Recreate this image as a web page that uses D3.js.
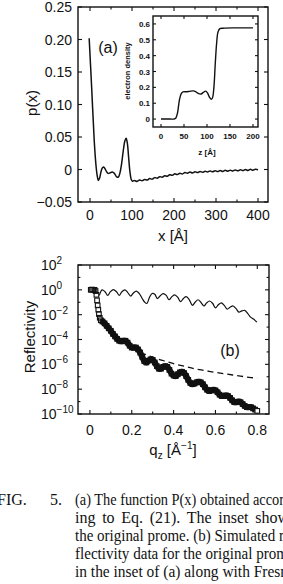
<!DOCTYPE html>
<html>
<head>
<meta charset="utf-8">
<script src="https://cdn.jsdelivr.net/npm/d3@7"></script>
<style>
  html, body { margin: 0; padding: 0; background: #fff; }
  svg { display: block; }
  .tick-label { font-family: "Liberation Sans", Arial, sans-serif; font-size: 14px; fill: #111; }
  .inset-label { font-family: "Liberation Sans", Arial, sans-serif; font-size: 8px; font-weight: bold; fill: #111; }
  .caption { font-family: "Liberation Serif", "Times New Roman", serif; font-size: 16px; fill: #111; }
</style>
</head>
<body>
<div id="chart"></div>
<script>
// panel (a): P(x)
const pX = [-2, 4, 10, 14, 17, 20, 23, 26, 29, 32, 35, 39, 43, 48, 53, 58, 63, 67, 71, 75, 79, 83, 86, 89, 92, 95, 98, 101,
  106, 112, 118, 124, 130, 136, 142, 148, 154, 160, 166, 172, 178, 184, 190, 196, 202, 208, 214, 220, 226, 232, 238, 244,
  250, 256, 262, 268, 274, 280, 286, 292, 298, 304, 310, 316, 322, 328, 334, 340, 346, 352, 358, 364, 370, 376, 382, 388, 394, 400];
const pY = [0.202, 0.125, 0.045, 0.008, -0.009, -0.017, -0.013, -0.004, 0.002, 0.004, 0.002, -0.003, -0.006, -0.005, -0.004, -0.006, -0.011, -0.012, -0.006, 0.008, 0.028, 0.044, 0.048, 0.040, 0.018, -0.003, -0.015, -0.018,
  -0.0170, -0.0183, -0.0162, -0.0173, -0.0152, -0.0163, -0.0140, -0.0148, -0.0125, -0.0133, -0.0110, -0.0118, -0.0095, -0.0103, -0.0080, -0.0088, -0.0067, -0.0078, -0.0057, -0.0068, -0.0047, -0.0058, -0.0040, -0.0053,
  -0.0035, -0.0048, -0.0031, -0.0043, -0.0027, -0.0038, -0.0022, -0.0035, -0.0019, -0.0032, -0.0016, -0.0029, -0.0013, -0.0026, -0.0010, -0.0023, -0.0007, -0.0020, -0.0004, -0.0017, -0.0001, -0.0014, 0.0002, -0.0011, 0.0005, -0.0003];

// inset: electron density profile
const zVals = [0, 10, 20, 28, 32, 36, 40, 44, 48, 55, 62, 70, 76, 82, 87, 92, 97, 101, 105, 109, 112, 115, 118, 121, 124, 128, 135, 160, 200];
const rhoVals = [0, 0, 0, 0, 0.005, 0.04, 0.12, 0.16, 0.172, 0.172, 0.175, 0.178, 0.172, 0.16, 0.158, 0.168, 0.176, 0.165, 0.14, 0.125, 0.135, 0.2, 0.35, 0.48, 0.55, 0.57, 0.573, 0.575, 0.575];

// panel (b): reflectivity, log10 values
const qOrig = [0.045, 0.058, 0.072, 0.085, 0.098, 0.112, 0.127, 0.14, 0.153, 0.167, 0.18, 0.195, 0.208, 0.222, 0.236, 0.25, 0.262, 0.272,
  0.285, 0.297, 0.31, 0.322, 0.335, 0.35, 0.365, 0.378, 0.392, 0.405, 0.42, 0.433, 0.447, 0.46, 0.475, 0.49, 0.503, 0.517, 0.53,
  0.545, 0.558, 0.572, 0.587, 0.6, 0.614, 0.628, 0.642, 0.656, 0.67, 0.684, 0.698, 0.712, 0.726, 0.74, 0.754, 0.768, 0.782, 0.798];
const logROrig = [-0.45, 0.0, -0.15, -0.45, -0.15, 0.02, -0.15, -0.45, -0.15, 0.0, -0.2, -0.5, -0.25, -0.1, -0.3, -0.7, -1.0, -1.1,
  -0.6, -0.3, -0.35, -0.7, -0.5, -0.3, -0.45, -0.8, -0.55, -0.4, -0.6, -0.95, -0.7, -0.55, -0.8, -1.25, -1.0, -0.8, -1.0,
  -1.3, -1.05, -0.9, -1.1, -1.45, -1.2, -1.05, -1.25, -1.55, -1.4, -1.3, -1.5, -1.8, -1.7, -1.65, -1.9, -2.2, -2.35, -2.6];

const qSim = [0.004, 0.010, 0.016, 0.022, 0.027, 0.031, 0.034, 0.037, 0.040, 0.043, 0.047, 0.052, 0.060, 0.070, 0.080, 0.090,
  0.100, 0.110, 0.120, 0.130, 0.140, 0.150, 0.160, 0.170, 0.180, 0.190, 0.200, 0.210, 0.220, 0.230, 0.240, 0.250, 0.260, 0.270,
  0.280, 0.290, 0.300, 0.310, 0.320, 0.330, 0.340, 0.350, 0.360, 0.370, 0.380, 0.390, 0.400, 0.410, 0.420, 0.430, 0.440, 0.450,
  0.460, 0.470, 0.480, 0.490, 0.500, 0.510, 0.520, 0.530, 0.540, 0.550, 0.560, 0.570, 0.580, 0.590, 0.600, 0.610, 0.620, 0.630,
  0.640, 0.650, 0.660, 0.670, 0.680, 0.690, 0.700, 0.710, 0.720, 0.730, 0.740, 0.750, 0.760, 0.770, 0.780, 0.790, 0.800];
const logRSim = [0.0, 0.02, 0.0, 0.0, -0.1, -0.4, -0.85, -1.25, -1.6, -1.95, -2.25, -2.45, -2.55, -2.7, -2.9, -3.1,
  -3.3, -3.55, -3.75, -3.95, -4.1, -4.15, -4.1, -4.1, -4.25, -4.5, -4.65, -4.65, -4.65, -4.8, -5.05, -5.4, -5.75, -5.85,
  -5.7, -5.6, -5.65, -5.85, -6.15, -6.35, -6.35, -6.2, -6.15, -6.2, -6.45, -6.75, -6.9, -6.95, -6.8, -6.65, -6.6, -6.7,
  -6.95, -7.25, -7.5, -7.6, -7.55, -7.45, -7.4, -7.45, -7.6, -7.85, -8.05, -8.15, -8.1, -8.05, -8.1, -8.25, -8.45, -8.55,
  -8.55, -8.5, -8.55, -8.7, -8.9, -9.05, -9.05, -9.0, -9.05, -9.2, -9.35, -9.45, -9.45, -9.45, -9.55, -9.65, -9.75];

const qFresnel = [0.24, 0.28, 0.32, 0.36, 0.40, 0.45, 0.50, 0.55, 0.60, 0.65, 0.70, 0.75, 0.80];
const logRFresnel = [-5.05, -5.3, -5.55, -5.75, -5.95, -6.15, -6.35, -6.5, -6.65, -6.78, -6.9, -7.02, -7.12];

// tick labels
const xTicksA = [0, 100, 200, 300, 400];
const yTicksA = [-0.05, 0, 0.05, 0.10, 0.15, 0.20, 0.25];
const xTicksInset = [0, 50, 100, 150, 200];
const yTicksInset = [0, 0.1, 0.2, 0.3, 0.4, 0.5, 0.6];
const xTicksB = [0, 0.2, 0.4, 0.6, 0.8];
const yExpB = [2, 0, -2, -4, -6, -8, -10];

const captionLines = [
  { text: '(a) The function P(x) obtained accor', right: 284 },
  { text: 'ing to Eq. (21). The inset show', right: 289 },
  { text: 'the original prome. (b) Simulated r', right: 284 },
  { text: 'flectivity data for the original prom', right: 288 },
  { text: 'in the inset of (a) along with Fresn', right: 288 }
];

const W = 283, H = 584;
const ink = '#111';

const svg = d3.select('#chart').append('svg')
  .attr('width', W).attr('height', H)
  .attr('viewBox', `0 0 ${W} ${H}`);

svg.append('rect').attr('width', W).attr('height', H).attr('fill', '#fff');

const fmtA = d => d === 0 ? '0' : (d < 0 ? '\u2212' : '') + Math.abs(d).toFixed(2);

// draws inward ticks on all four sides of a frame
function frameTicks(g, x, y, xMajor, xMinor, yMajor, yMinor, len) {
  const [x0, x1] = x.range(), [y0, y1] = y.range();
  const tk = (vals, l, horiz) => vals.forEach(v => {
    if (horiz) {
      const px = x(v);
      g.append('line').attr('x1', px).attr('x2', px).attr('y1', y0).attr('y2', y0 - l);
      g.append('line').attr('x1', px).attr('x2', px).attr('y1', y1).attr('y2', y1 + l);
    } else {
      const py = y(v);
      g.append('line').attr('x1', x0).attr('x2', x0 + l).attr('y1', py).attr('y2', py);
      g.append('line').attr('x1', x1).attr('x2', x1 - l).attr('y1', py).attr('y2', py);
    }
  });
  tk(xMajor, len, true); tk(xMinor, len * 0.6, true);
  tk(yMajor, len, false); tk(yMinor, len * 0.6, false);
  g.selectAll('line').attr('stroke', ink).attr('stroke-width', 1.1);
  g.append('rect')
    .attr('x', x0).attr('y', y1).attr('width', x1 - x0).attr('height', y0 - y1)
    .attr('fill', 'none').attr('stroke', ink).attr('stroke-width', 1.4);
}

// ---------- panel (a) ----------
const xA = d3.scaleLinear().domain([-28.6, 423.8]).range([78, 268]);
const yA = d3.scaleLinear().domain([-0.05, 0.25]).range([202, 7]);

const gA = svg.append('g');
frameTicks(gA.append('g'), xA, yA, xTicksA, [50, 150, 250, 350], yTicksA, [], 4);

gA.append('path')
  .datum(pX.map((x, i) => [x, pY[i]]))
  .attr('fill', 'none').attr('stroke', ink).attr('stroke-width', 1.5)
  .attr('stroke-linejoin', 'round')
  .attr('d', d3.line().x(d => xA(d[0])).y(d => yA(d[1])).curve(d3.curveCatmullRom));

gA.selectAll('.ylab').data(yTicksA).enter().append('text')
  .attr('class', 'tick-label').attr('text-anchor', 'end')
  .attr('x', 72).attr('y', d => yA(d) + 5).text(fmtA);

gA.selectAll('.xlab').data(xTicksA).enter().append('text')
  .attr('class', 'tick-label').attr('text-anchor', 'middle')
  .attr('x', d => xA(d)).attr('y', 220).text(d => d);

gA.append('text').attr('class', 'tick-label').attr('text-anchor', 'middle')
  .attr('x', 173).attr('y', 241).style('font-size', '15px').text('x [\u00c5]');

gA.append('text').attr('class', 'tick-label').attr('text-anchor', 'middle')
  .attr('transform', 'translate(37,103) rotate(-90)').style('font-size', '15px').text('p(x)');

gA.append('text').attr('class', 'tick-label').attr('text-anchor', 'middle')
  .attr('x', 108).attr('y', 53).style('font-size', '16px').text('(a)');

// ---------- inset ----------
const xI = d3.scaleLinear().domain([-17.4, 210.9]).range([153, 258]);
const yI = d3.scaleLinear().domain([-0.05, 0.65]).range([127, 16]);

const gI = svg.append('g');
gI.append('rect').attr('x', 153).attr('y', 16).attr('width', 105).attr('height', 111).attr('fill', '#fff');
frameTicks(gI.append('g'), xI, yI, xTicksInset, [], yTicksInset, [], 3);

gI.append('path')
  .datum(zVals.map((z, i) => [z, rhoVals[i]]))
  .attr('fill', 'none').attr('stroke', ink).attr('stroke-width', 1.4)
  .attr('d', d3.line().x(d => xI(d[0])).y(d => yI(d[1])).curve(d3.curveCatmullRom));

gI.selectAll('.ylab').data(yTicksInset).enter().append('text')
  .attr('class', 'inset-label').attr('text-anchor', 'end')
  .attr('x', 150).attr('y', d => yI(d) + 3).text(d => d);

gI.selectAll('.xlab').data(xTicksInset).enter().append('text')
  .attr('class', 'inset-label').attr('text-anchor', 'middle')
  .attr('x', d => xI(d)).attr('y', 139).text(d => d);

gI.append('text').attr('class', 'inset-label').attr('text-anchor', 'middle')
  .attr('x', 207).attr('y', 155).text('z [\u00c5]');

gI.append('text').attr('class', 'inset-label').attr('text-anchor', 'middle')
  .attr('transform', 'translate(130,71) rotate(-90)').style('font-size', '7.5px').text('electron density');

// ---------- panel (b) ----------
const xB = d3.scaleLinear().domain([-0.057, 0.856]).range([78, 269]);
const yB = d3.scaleLog().domain([1e-10, 1e2]).range([414, 265]);

const gB = svg.append('g');
frameTicks(gB.append('g'), xB, yB, xTicksB, [0.1, 0.3, 0.5, 0.7],
  yExpB.map(e => Math.pow(10, e)), [1, -1, -3, -5, -7, -9].map(e => Math.pow(10, e)), 4);

const lineB = d3.line().x(d => xB(d[0])).y(d => yB(Math.pow(10, d[1])));

gB.append('path')
  .datum(qOrig.map((q, i) => [q, logROrig[i]]))
  .attr('fill', 'none').attr('stroke', ink).attr('stroke-width', 1.2)
  .attr('d', lineB.curve(d3.curveCatmullRom));

gB.append('path')
  .datum(qFresnel.map((q, i) => [q, logRFresnel[i]]))
  .attr('fill', 'none').attr('stroke', ink).attr('stroke-width', 1.3)
  .attr('stroke-dasharray', '6,4')
  .attr('d', lineB.curve(d3.curveCatmullRom));

const sim = qSim.map((q, i) => [q, logRSim[i]]);
gB.append('path')
  .datum(sim.filter(d => d[0] >= 0.05 && d[0] <= 0.79))
  .attr('fill', 'none').attr('stroke', ink).attr('stroke-width', 6)
  .attr('stroke-linejoin', 'round')
  .attr('d', lineB.curve(d3.curveCatmullRom));

gB.selectAll('.sq').data(sim).enter().append('rect')
  .attr('x', d => xB(d[0]) - 2.3).attr('y', d => yB(Math.pow(10, d[1])) - 2.3)
  .attr('width', 4.6).attr('height', 4.6)
  .attr('fill', (d, i) => i === sim.length - 1 ? '#fff' : 'none')
  .attr('stroke', ink).attr('stroke-width', 1.1);

const yl = gB.selectAll('.ylab').data(yExpB).enter().append('text')
  .attr('class', 'tick-label')
  .attr('x', 41).attr('y', d => yB(Math.pow(10, d)) + 5);
yl.append('tspan').text('10');
yl.append('tspan').attr('dy', -6).style('font-size', '10px')
  .text(d => d < 0 ? '\u2212' + Math.abs(d) : d);

gB.selectAll('.xlab').data(xTicksB).enter().append('text')
  .attr('class', 'tick-label').attr('text-anchor', 'middle')
  .attr('x', d => xB(d)).attr('y', 435).text(d => d === 0 ? '0' : d.toFixed(1));

const qlab = gB.append('text').attr('class', 'tick-label').attr('text-anchor', 'middle')
  .attr('x', 173).attr('y', 455).style('font-size', '15px');
qlab.append('tspan').text('q');
qlab.append('tspan').attr('dy', 4).style('font-size', '10px').text('z');
qlab.append('tspan').attr('dy', -4).text(' [\u00c5');
qlab.append('tspan').attr('dy', -6).style('font-size', '10px').text('\u22121');
qlab.append('tspan').attr('dy', 6).text(']');

gB.append('text').attr('class', 'tick-label').attr('text-anchor', 'middle')
  .attr('transform', 'translate(35,337) rotate(-90)').style('font-size', '15px').text('Reflectivity');

gB.append('text').attr('class', 'tick-label').attr('text-anchor', 'middle')
  .attr('x', 230).attr('y', 356).style('font-size', '16px').text('(b)');

// ---------- caption ----------
const gC = svg.append('g');
gC.append('text').attr('class', 'caption').attr('x', -3).attr('y', 505).text('FIG.');
gC.append('text').attr('class', 'caption').attr('x', 50).attr('y', 505).text('5.');

captionLines.forEach((ln, i) => {
  const t = gC.append('text').attr('class', 'caption')
    .attr('x', 75).attr('y', 505 + i * 18).text(ln.text);
  const natural = t.node().getComputedTextLength();
  const target = ln.right - 75;
  const gaps = ln.text.split(' ').length - 1;
  if (natural < target) {
    t.attr('word-spacing', (target - natural) / gaps);
  } else {
    // squeeze overlong lines so the line ends where the scan cuts it
    t.attr('textLength', target).attr('lengthAdjust', 'spacingAndGlyphs');
  }
});
</script>
</body>
</html>
